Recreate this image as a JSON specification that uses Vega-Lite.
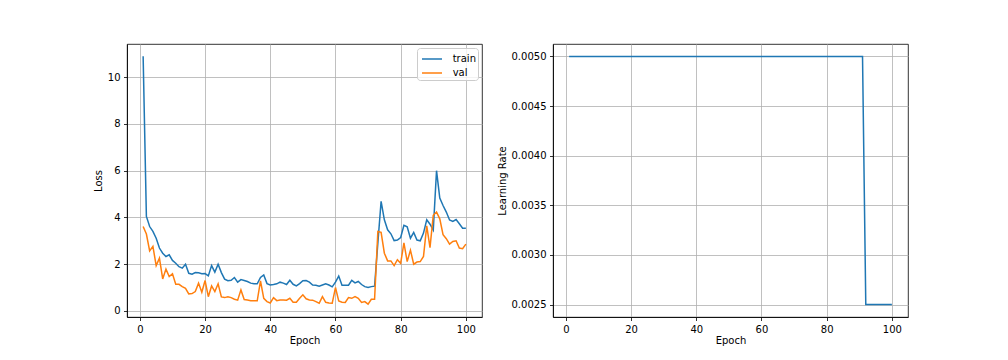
{
  "$schema": "https://vega.github.io/schema/vega-lite/v6.json",
  "background": "white",
  "padding": {"left": 92, "top": 43, "right": 5, "bottom": 5},
  "config": {
    "font": "DejaVu Sans",
    "view": {"stroke": "black", "strokeWidth": 0.8},
    "axis": {
      "domainColor": "black", "domainWidth": 0.8,
      "tickColor": "black", "tickWidth": 0.8, "tickSize": 3.5,
      "labelPadding": 3.5, "labelFontSize": 10, "labelColor": "black",
      "labelFlush": false, "labelOverlap": false,
      "titleFontSize": 10, "titleFontWeight": "normal", "titleColor": "black", "titlePadding": 4,
      "grid": true, "gridColor": "#b0b0b0", "gridWidth": 0.8
    },
    "axisX": {"titlePadding": 1},
    "legend": {
      "labelFontSize": 10, "labelColor": "black",
      "fillColor": "rgba(255,255,255,0.8)", "strokeColor": "#cccccc", "cornerRadius": 3,
      "padding": 2, "offset": 4,
      "symbolType": "M-1.25,0H1.25", "symbolStrokeWidth": 1.5, "symbolSize": 256, "symbolOffset": 4,
      "labelOffset": 11.7, "rowPadding": 0
    }
  },
  "datasets": {
    "loss": [
      {"epoch": 1, "train": 10.9, "val": 3.61},
      {"epoch": 2, "train": 4.04, "val": 3.29},
      {"epoch": 3, "train": 3.61, "val": 2.57},
      {"epoch": 4, "train": 3.4, "val": 2.76},
      {"epoch": 5, "train": 3.11, "val": 1.94},
      {"epoch": 6, "train": 2.69, "val": 2.26},
      {"epoch": 7, "train": 2.47, "val": 1.37},
      {"epoch": 8, "train": 2.33, "val": 1.79},
      {"epoch": 9, "train": 2.4, "val": 1.47},
      {"epoch": 10, "train": 2.16, "val": 1.59},
      {"epoch": 11, "train": 2.04, "val": 1.14},
      {"epoch": 12, "train": 1.89, "val": 1.14},
      {"epoch": 13, "train": 1.83, "val": 1.04},
      {"epoch": 14, "train": 2.0, "val": 0.97},
      {"epoch": 15, "train": 1.61, "val": 0.73},
      {"epoch": 16, "train": 1.57, "val": 0.74},
      {"epoch": 17, "train": 1.64, "val": 0.83},
      {"epoch": 18, "train": 1.63, "val": 1.19},
      {"epoch": 19, "train": 1.59, "val": 0.8},
      {"epoch": 20, "train": 1.6, "val": 1.3},
      {"epoch": 21, "train": 1.5, "val": 0.61},
      {"epoch": 22, "train": 1.94, "val": 1.07},
      {"epoch": 23, "train": 1.66, "val": 0.83},
      {"epoch": 24, "train": 2.0, "val": 1.16},
      {"epoch": 25, "train": 1.64, "val": 0.6},
      {"epoch": 26, "train": 1.36, "val": 0.57},
      {"epoch": 27, "train": 1.29, "val": 0.61},
      {"epoch": 28, "train": 1.31, "val": 0.57},
      {"epoch": 29, "train": 1.43, "val": 0.5},
      {"epoch": 30, "train": 1.23, "val": 0.46},
      {"epoch": 31, "train": 1.34, "val": 0.9},
      {"epoch": 32, "train": 1.3, "val": 0.49},
      {"epoch": 33, "train": 1.26, "val": 0.47},
      {"epoch": 34, "train": 1.19, "val": 0.44},
      {"epoch": 35, "train": 1.16, "val": 0.43},
      {"epoch": 36, "train": 1.16, "val": 0.43},
      {"epoch": 37, "train": 1.43, "val": 1.29},
      {"epoch": 38, "train": 1.54, "val": 0.54},
      {"epoch": 39, "train": 1.17, "val": 0.4},
      {"epoch": 40, "train": 1.11, "val": 0.34},
      {"epoch": 41, "train": 1.13, "val": 0.57},
      {"epoch": 42, "train": 1.16, "val": 0.44},
      {"epoch": 43, "train": 1.23, "val": 0.47},
      {"epoch": 44, "train": 1.19, "val": 0.47},
      {"epoch": 45, "train": 1.13, "val": 0.46},
      {"epoch": 46, "train": 1.31, "val": 0.54},
      {"epoch": 47, "train": 1.14, "val": 0.37},
      {"epoch": 48, "train": 1.07, "val": 0.37},
      {"epoch": 49, "train": 1.17, "val": 0.54},
      {"epoch": 50, "train": 1.29, "val": 0.69},
      {"epoch": 51, "train": 1.3, "val": 0.52},
      {"epoch": 52, "train": 1.23, "val": 0.47},
      {"epoch": 53, "train": 1.11, "val": 0.46},
      {"epoch": 54, "train": 1.1, "val": 0.4},
      {"epoch": 55, "train": 1.06, "val": 0.33},
      {"epoch": 56, "train": 1.11, "val": 0.61},
      {"epoch": 57, "train": 1.16, "val": 0.37},
      {"epoch": 58, "train": 1.11, "val": 0.34},
      {"epoch": 59, "train": 1.03, "val": 0.33},
      {"epoch": 60, "train": 1.23, "val": 1.0},
      {"epoch": 61, "train": 1.49, "val": 0.43},
      {"epoch": 62, "train": 1.1, "val": 0.37},
      {"epoch": 63, "train": 1.1, "val": 0.36},
      {"epoch": 64, "train": 1.1, "val": 0.57},
      {"epoch": 65, "train": 1.31, "val": 0.54},
      {"epoch": 66, "train": 1.2, "val": 0.61},
      {"epoch": 67, "train": 1.26, "val": 0.54},
      {"epoch": 68, "train": 1.13, "val": 0.36},
      {"epoch": 69, "train": 1.04, "val": 0.4},
      {"epoch": 70, "train": 1.0, "val": 0.29},
      {"epoch": 71, "train": 1.04, "val": 0.5},
      {"epoch": 72, "train": 1.06, "val": 0.5},
      {"epoch": 73, "train": 2.9, "val": 3.4},
      {"epoch": 74, "train": 4.69, "val": 3.36},
      {"epoch": 75, "train": 3.9, "val": 2.47},
      {"epoch": 76, "train": 3.47, "val": 2.14},
      {"epoch": 77, "train": 3.3, "val": 2.14},
      {"epoch": 78, "train": 3.01, "val": 1.94},
      {"epoch": 79, "train": 3.03, "val": 2.19},
      {"epoch": 80, "train": 3.14, "val": 2.04},
      {"epoch": 81, "train": 3.66, "val": 2.91},
      {"epoch": 82, "train": 3.6, "val": 2.11},
      {"epoch": 83, "train": 3.11, "val": 2.6},
      {"epoch": 84, "train": 3.36, "val": 2.0},
      {"epoch": 85, "train": 3.03, "val": 2.09},
      {"epoch": 86, "train": 3.0, "val": 2.11},
      {"epoch": 87, "train": 3.33, "val": 2.33},
      {"epoch": 88, "train": 3.9, "val": 3.64},
      {"epoch": 89, "train": 3.71, "val": 2.71},
      {"epoch": 90, "train": 3.46, "val": 4.09},
      {"epoch": 91, "train": 6.0, "val": 4.23},
      {"epoch": 92, "train": 4.83, "val": 3.94},
      {"epoch": 93, "train": 4.51, "val": 3.26},
      {"epoch": 94, "train": 4.23, "val": 3.09},
      {"epoch": 95, "train": 3.89, "val": 2.86},
      {"epoch": 96, "train": 3.83, "val": 2.97},
      {"epoch": 97, "train": 3.91, "val": 3.0},
      {"epoch": 98, "train": 3.73, "val": 2.69},
      {"epoch": 99, "train": 3.54, "val": 2.66},
      {"epoch": 100, "train": 3.54, "val": 2.86}
    ],
    "lr": [
      {"epoch": 1, "lr": 0.005}, {"epoch": 2, "lr": 0.005}, {"epoch": 3, "lr": 0.005}, {"epoch": 4, "lr": 0.005}, {"epoch": 5, "lr": 0.005},
      {"epoch": 6, "lr": 0.005}, {"epoch": 7, "lr": 0.005}, {"epoch": 8, "lr": 0.005}, {"epoch": 9, "lr": 0.005}, {"epoch": 10, "lr": 0.005},
      {"epoch": 11, "lr": 0.005}, {"epoch": 12, "lr": 0.005}, {"epoch": 13, "lr": 0.005}, {"epoch": 14, "lr": 0.005}, {"epoch": 15, "lr": 0.005},
      {"epoch": 16, "lr": 0.005}, {"epoch": 17, "lr": 0.005}, {"epoch": 18, "lr": 0.005}, {"epoch": 19, "lr": 0.005}, {"epoch": 20, "lr": 0.005},
      {"epoch": 21, "lr": 0.005}, {"epoch": 22, "lr": 0.005}, {"epoch": 23, "lr": 0.005}, {"epoch": 24, "lr": 0.005}, {"epoch": 25, "lr": 0.005},
      {"epoch": 26, "lr": 0.005}, {"epoch": 27, "lr": 0.005}, {"epoch": 28, "lr": 0.005}, {"epoch": 29, "lr": 0.005}, {"epoch": 30, "lr": 0.005},
      {"epoch": 31, "lr": 0.005}, {"epoch": 32, "lr": 0.005}, {"epoch": 33, "lr": 0.005}, {"epoch": 34, "lr": 0.005}, {"epoch": 35, "lr": 0.005},
      {"epoch": 36, "lr": 0.005}, {"epoch": 37, "lr": 0.005}, {"epoch": 38, "lr": 0.005}, {"epoch": 39, "lr": 0.005}, {"epoch": 40, "lr": 0.005},
      {"epoch": 41, "lr": 0.005}, {"epoch": 42, "lr": 0.005}, {"epoch": 43, "lr": 0.005}, {"epoch": 44, "lr": 0.005}, {"epoch": 45, "lr": 0.005},
      {"epoch": 46, "lr": 0.005}, {"epoch": 47, "lr": 0.005}, {"epoch": 48, "lr": 0.005}, {"epoch": 49, "lr": 0.005}, {"epoch": 50, "lr": 0.005},
      {"epoch": 51, "lr": 0.005}, {"epoch": 52, "lr": 0.005}, {"epoch": 53, "lr": 0.005}, {"epoch": 54, "lr": 0.005}, {"epoch": 55, "lr": 0.005},
      {"epoch": 56, "lr": 0.005}, {"epoch": 57, "lr": 0.005}, {"epoch": 58, "lr": 0.005}, {"epoch": 59, "lr": 0.005}, {"epoch": 60, "lr": 0.005},
      {"epoch": 61, "lr": 0.005}, {"epoch": 62, "lr": 0.005}, {"epoch": 63, "lr": 0.005}, {"epoch": 64, "lr": 0.005}, {"epoch": 65, "lr": 0.005},
      {"epoch": 66, "lr": 0.005}, {"epoch": 67, "lr": 0.005}, {"epoch": 68, "lr": 0.005}, {"epoch": 69, "lr": 0.005}, {"epoch": 70, "lr": 0.005},
      {"epoch": 71, "lr": 0.005}, {"epoch": 72, "lr": 0.005}, {"epoch": 73, "lr": 0.005}, {"epoch": 74, "lr": 0.005}, {"epoch": 75, "lr": 0.005},
      {"epoch": 76, "lr": 0.005}, {"epoch": 77, "lr": 0.005}, {"epoch": 78, "lr": 0.005}, {"epoch": 79, "lr": 0.005}, {"epoch": 80, "lr": 0.005},
      {"epoch": 81, "lr": 0.005}, {"epoch": 82, "lr": 0.005}, {"epoch": 83, "lr": 0.005}, {"epoch": 84, "lr": 0.005}, {"epoch": 85, "lr": 0.005},
      {"epoch": 86, "lr": 0.005}, {"epoch": 87, "lr": 0.005}, {"epoch": 88, "lr": 0.005}, {"epoch": 89, "lr": 0.005}, {"epoch": 90, "lr": 0.005},
      {"epoch": 91, "lr": 0.005}, {"epoch": 92, "lr": 0.0025}, {"epoch": 93, "lr": 0.0025}, {"epoch": 94, "lr": 0.0025}, {"epoch": 95, "lr": 0.0025},
      {"epoch": 96, "lr": 0.0025}, {"epoch": 97, "lr": 0.0025}, {"epoch": 98, "lr": 0.0025}, {"epoch": 99, "lr": 0.0025}, {"epoch": 100, "lr": 0.0025}
    ]
  },
  "spacing": 71,
  "bounds": "flush",
  "resolve": {"legend": {"color": "independent"}, "scale": {"color": "independent"}},
  "hconcat": [
    {
      "width": 355,
      "height": 273,
      "data": {"name": "loss"},
      "transform": [{"fold": ["train", "val"], "as": ["series", "value"]}],
      "mark": {"type": "line", "strokeWidth": 1.5, "clip": true},
      "encoding": {
        "x": {"field": "epoch", "type": "quantitative",
              "scale": {"domain": [-3.95, 104.95], "nice": false, "zero": false},
              "axis": {"values": [0, 20, 40, 60, 80, 100], "format": "d", "title": "Epoch"}},
        "y": {"field": "value", "type": "quantitative",
              "scale": {"domain": [-0.26, 11.42], "nice": false, "zero": false},
              "axis": {"values": [0, 2, 4, 6, 8, 10], "format": "d", "title": "Loss"}},
        "color": {"field": "series", "type": "nominal",
                  "scale": {"domain": ["train", "val"], "range": ["#1f77b4", "#ff7f0e"]},
                  "legend": {"title": null, "orient": "top-right"}}
      }
    },
    {
      "width": 355,
      "height": 273,
      "data": {"name": "lr"},
      "mark": {"type": "line", "strokeWidth": 1.5, "color": "#1f77b4", "clip": true},
      "encoding": {
        "x": {"field": "epoch", "type": "quantitative",
              "scale": {"domain": [-3.95, 104.95], "nice": false, "zero": false},
              "axis": {"values": [0, 20, 40, 60, 80, 100], "format": "d", "title": "Epoch"}},
        "y": {"field": "lr", "type": "quantitative",
              "scale": {"domain": [0.002375, 0.005125], "nice": false, "zero": false},
              "axis": {"values": [0.0025, 0.003, 0.0035, 0.004, 0.0045, 0.005], "format": ".4f", "title": "Learning Rate"}}
      }
    }
  ]
}
